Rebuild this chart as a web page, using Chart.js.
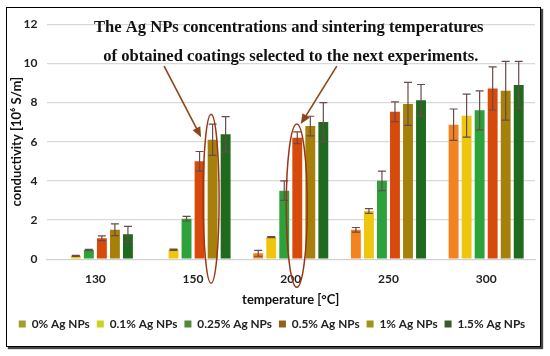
<!DOCTYPE html>
<html>
<head>
<meta charset="utf-8">
<script src="https://cdn.jsdelivr.net/npm/chart.js@4/dist/chart.umd.min.js"></script>
<style>
  body { margin: 0; background: #fff; }
  #frame { position: absolute; left: 6px; top: 7px; width: 533px; height: 338px;
           border: 1px solid #000; box-shadow: 2px 2px 1px #444; background: #fff; }
  canvas { display: block; }
</style>
</head>
<body>
<div id="frame"><canvas id="myChart" width="533" height="338"></canvas></div>
<script>
var temps = ["130", "150", "200", "250", "300"]
var series = ["0% Ag NPs", "0.1% Ag NPs", "0.25% Ag NPs", "0.5% Ag NPs", "1% Ag NPs", "1.5% Ag NPs"]

var v0   = [null, null, 0.3, 1.5, 6.87]
var v01  = [0.17, 0.48, 1.13, 2.46, 7.33]
var v025 = [0.47, 2.07, 3.5, 4.0, 7.6]
var v05  = [1.07, 5.0, 6.2, 7.53, 8.72]
var v1   = [1.5, 6.1, 6.8, 7.93, 8.6]
var v15  = [1.28, 6.38, 7.0, 8.12, 8.9]

var e0   = [0, 0, 0.15, 0.12, 0.8]
var e01  = [0.03, 0.03, 0.03, 0.12, 1.1]
var e025 = [0.03, 0.12, 0.5, 0.5, 1.0]
var e05  = [0.12, 0.5, 0.3, 0.5, 1.1]
var e1   = [0.3, 0.8, 0.5, 1.1, 1.5]
var e15  = [0.4, 0.9, 1.0, 0.8, 1.2]

var yTicks = [0, 2, 4, 6, 8, 10, 12]
var noteLines = ["The Ag NPs concentrations and sintering temperatures",
                 "of obtained coatings selected to the next experiments."]

var barColors = ["#F4821E", "#EFC60E", "#2DA23A", "#D84A0C", "#A6800A", "#1F6A1F"]
var legendColors = ["#A0A02A", "#CAD21E", "#4E8A3C", "#8C6418", "#9C9614", "#3C5A28"]
var values = [v0, v01, v025, v05, v1, v15]
var errors = [e0, e01, e025, e05, e1, e15]

var datasets = []
for (var i = 0; i < series.length; i++) {
    datasets.push({
        label: series[i],
        data: values[i],
        errors: errors[i],
        backgroundColor: barColors[i],
        categoryPercentage: 0.8,
        barPercentage: 0.76
    })
}

var errorBars = {
    id: "errorBars",
    afterDatasetsDraw: function(chart) {
        var ctx = chart.ctx
        var y = chart.scales.y
        ctx.save()
        ctx.strokeStyle = "#6a4a4a"
        ctx.lineWidth = 1.2
        chart.data.datasets.forEach(function(ds, di) {
            var meta = chart.getDatasetMeta(di)
            meta.data.forEach(function(bar, j) {
                var v = ds.data[j], e = ds.errors[j]
                if (v == null || !e) return
                var top = y.getPixelForValue(v + e)
                var bot = y.getPixelForValue(v - e)
                ctx.beginPath()
                ctx.moveTo(bar.x, top); ctx.lineTo(bar.x, bot)
                ctx.moveTo(bar.x - 4, top); ctx.lineTo(bar.x + 4, top)
                ctx.moveTo(bar.x - 4, bot); ctx.lineTo(bar.x + 4, bot)
                ctx.stroke()
            })
        })
        ctx.restore()
    }
}

function arrow(ctx, x1, y1, x2, y2) {
    var a = Math.atan2(y2 - y1, x2 - x1)
    var L = 11
    ctx.beginPath()
    ctx.moveTo(x1, y1)
    ctx.lineTo(x2 - Math.cos(a) * L * 0.8, y2 - Math.sin(a) * L * 0.8)
    ctx.stroke()
    ctx.beginPath()
    ctx.moveTo(x2, y2)
    ctx.lineTo(x2 - L * Math.cos(a - 0.4), y2 - L * Math.sin(a - 0.4))
    ctx.lineTo(x2 - L * Math.cos(a + 0.4), y2 - L * Math.sin(a + 0.4))
    ctx.closePath()
    ctx.fill()
}

var notes = {
    id: "notes",
    afterDraw: function(chart) {
        var ctx = chart.ctx
        var area = chart.chartArea
        var y = chart.scales.y
        var b1 = chart.getDatasetMeta(4).data[1]
        var b2 = chart.getDatasetMeta(3).data[2]
        ctx.save()
        // highlight ellipses
        var c1x = b1.x - 1.5, t1 = y.getPixelForValue(7.4), bt1 = area.bottom + 24
        var c2x = b2.x - 0.5, t2 = y.getPixelForValue(6.9), bt2 = area.bottom + 28
        ctx.strokeStyle = "#9E3414"
        ctx.lineWidth = 1.5
        ctx.beginPath()
        ctx.ellipse(c1x, (t1 + bt1) / 2, 8, (bt1 - t1) / 2, 0, 0, Math.PI * 2)
        ctx.stroke()
        ctx.beginPath()
        ctx.ellipse(c2x, (t2 + bt2) / 2, 10.5, (bt2 - t2) / 2, 0, 0, Math.PI * 2)
        ctx.stroke()
        // arrows
        ctx.strokeStyle = "#8E4416"
        ctx.fillStyle = "#8E4416"
        ctx.lineWidth = 1.6
        arrow(ctx, c1x - 47, area.top + 42, c1x - 10, t1 + 23)
        arrow(ctx, c2x + 40, area.top + 42, c2x + 4, t2)
        // note text
        ctx.fillStyle = "#111"
        ctx.font = "bold 16.6px 'Liberation Serif'"
        ctx.textAlign = "center"
        ctx.textBaseline = "middle"
        var cx = (area.left + area.right) / 2 - 2
        ctx.fillText(noteLines[0], cx, area.top + 3.5)
        ctx.fillText(noteLines[1], cx + 2, area.top + 33)
        ctx.restore()
    }
}

var myChart = new Chart("myChart", {
    type: "bar",
    data: { labels: temps, datasets: datasets },
    plugins: [errorBars, notes],
    options: {
        responsive: false,
        animation: false,
        layout: { padding: { top: 4, right: 5, bottom: 6, left: 2 } },
        scales: {
            x: {
                grid: { display: false },
                border: { color: "#d0d0d0" },
                ticks: { color: "#222", padding: 5, font: { family: "Lato", size: 12, weight: "bold" } },
                title: { display: true, text: "temperature [°C]", color: "#111", padding: { top: 0, bottom: 4 },
                         font: { family: "Lato", size: 13, weight: "bold" } }
            },
            y: {
                min: 0, max: 12,
                afterBuildTicks: function(axis) { axis.ticks = yTicks.map(function(v) { return { value: v } }) },
                grid: { color: "#d9d9d9", lineWidth: 1.2, drawTicks: false },
                border: { display: false },
                ticks: { color: "#222", padding: 9, font: { family: "Lato", size: 12, weight: "bold" } },
                title: { display: true, text: "conductivity [10⁶ S/m]", color: "#111", padding: { top: 0, bottom: -10 },
                         font: { family: "Lato", size: 13, weight: "bold" } }
            }
        },
        plugins: {
            tooltip: { enabled: false },
            legend: {
                position: "bottom",
                labels: {
                    boxWidth: 7, boxHeight: 7, padding: 7, color: "#222",
                    font: { family: "Lato", size: 11.8, weight: "bold" },
                    generateLabels: function(chart) {
                        return series.map(function(s, i) {
                            return { text: s, fillStyle: legendColors[i], strokeStyle: legendColors[i],
                                     lineWidth: 0, datasetIndex: i, fontColor: "#222" }
                        })
                    }
                }
            }
        }
    }
})
</script>
</body>
</html>
